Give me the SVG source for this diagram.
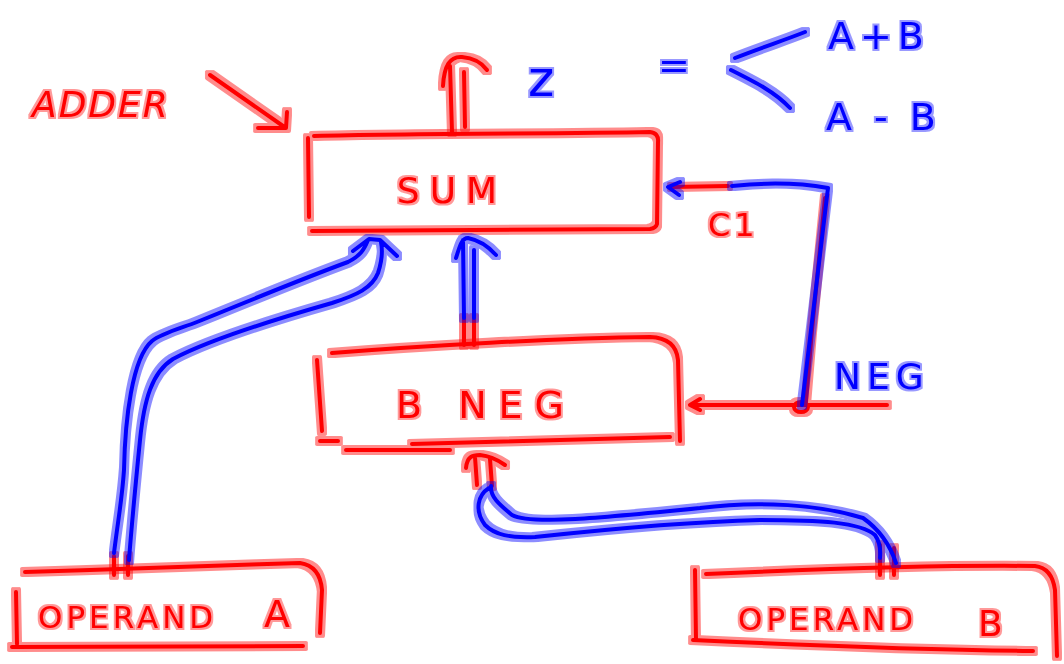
<svg xmlns="http://www.w3.org/2000/svg" width="1064" height="664" viewBox="0 0 1064 664">
<defs>
<filter id="hr" x="-10%" y="-10%" width="120%" height="120%">
<feMorphology in="SourceAlpha" operator="dilate" radius="2.5" result="d"/>
<feFlood flood-color="#ff0000" flood-opacity="0.45"/>
<feComposite in2="d" operator="in" result="h"/>
<feMerge><feMergeNode in="h"/><feMergeNode in="SourceGraphic"/></feMerge>
</filter>
<filter id="hb" x="-10%" y="-10%" width="120%" height="120%">
<feMorphology in="SourceAlpha" operator="dilate" radius="2.5" result="d"/>
<feFlood flood-color="#0000ff" flood-opacity="0.45"/>
<feComposite in2="d" operator="in" result="h"/>
<feMerge><feMergeNode in="h"/><feMergeNode in="SourceGraphic"/></feMerge>
</filter>
<filter id="tr" x="-10%" y="-10%" width="120%" height="120%">
<feMorphology in="SourceAlpha" operator="dilate" radius="1.5" result="d"/>
<feFlood flood-color="#ff0000" flood-opacity="0.4"/>
<feComposite in2="d" operator="in" result="h"/>
<feMerge><feMergeNode in="h"/><feMergeNode in="SourceGraphic"/></feMerge>
</filter>
<filter id="tb" x="-10%" y="-10%" width="120%" height="120%">
<feMorphology in="SourceAlpha" operator="dilate" radius="1.5" result="d"/>
<feFlood flood-color="#0000ff" flood-opacity="0.4"/>
<feComposite in2="d" operator="in" result="h"/>
<feMerge><feMergeNode in="h"/><feMergeNode in="SourceGraphic"/></feMerge>
</filter>
</defs>
<style>
.r{fill:none;stroke:#ff0000;stroke-width:4;stroke-linecap:round;stroke-linejoin:round}
.b{fill:none;stroke:#0000ff;stroke-width:4;stroke-linecap:round;stroke-linejoin:round}
.gr{filter:url(#hr)}
.gb{filter:url(#hb)}
.tr{fill:#ff0000;font-family:"DejaVu Sans",sans-serif;filter:url(#tr)}
.tb{fill:#0000ff;font-family:"DejaVu Sans",sans-serif;filter:url(#tb)}
</style>
<rect width="1064" height="664" fill="#ffffff"/>

<g id="adder-label">
<text class="tr" x="32" y="117" font-size="36" letter-spacing="2" font-style="italic">ADDER</text>
<g class="gr"><path class="r" d="M210 75 L283 126 M258 128 L286 128 L287 112"/></g>
</g>

<g id="sum">
<g class="gr"><path class="r" d="M308 138 L309 217 M314 136 C420 133 560 134 650 132 Q659 133 658 142 L657 224 Q656 228 650 229 L312 231"/></g>
<text class="tr" x="452" y="203" font-size="36" text-anchor="middle" letter-spacing="10">SUM</text>
</g>

<g id="bneg">
<g class="gr"><path class="r" d="M332 353 C420 346 560 338 650 337 Q676 338 678 360 L680 441 M317 360 L322 431 M320 441 L338 441 M346 450 L450 450 M412 444 L670 437"/></g>
<text class="tr" x="486" y="418" font-size="38" text-anchor="middle" letter-spacing="12">B NEG</text>
</g>

<g id="operand-a">
<g class="gr"><path class="r" d="M25 572 C120 569 220 566 300 563 Q320 566 322 590 L320 633 M16 592 L17 644 M12 647 L303 646"/></g>
<text class="tr" x="38" y="628" font-size="31" letter-spacing="4">OPERAND</text>
<text class="tr" x="264" y="627" font-size="38">A</text>
</g>

<g id="operand-b">
<g class="gr"><path class="r" d="M706 574 C820 569 950 565 1035 566 Q1052 568 1055 590 L1057 656 M695 570 L696 640 M693 640 C800 645 950 650 1033 651"/></g>
<text class="tr" x="738" y="630" font-size="31" letter-spacing="4">OPERAND</text>
<text class="tr" x="978" y="636" font-size="36">B</text>
</g>

<g id="labels">
<text class="tb" x="528" y="96" font-size="50">z</text>
<text class="tb" x="658" y="78" font-size="38">=</text>
<g class="gb"><path class="b" d="M735 58 C760 48 785 40 805 32 M731 70 C755 82 775 92 790 108"/></g>
<text class="tb" x="828" y="49" font-size="38" letter-spacing="6">A+B</text>
<text class="tb" x="826" y="130" font-size="38" letter-spacing="5">A - B</text>
<text class="tb" x="834" y="389" font-size="36" letter-spacing="6">NEG</text>
<text class="tr" x="708" y="236" font-size="32" letter-spacing="4">C1</text>
</g>

<g id="connectors">
<g class="gr">
<path class="r" d="M452 132 L450 66 M465 127 L464 72 M443 86 C444 66 450 56 462 57 C474 58 482 63 487 70"/>
<path class="r" d="M464 318 L464 345 M474 318 L474 345"/>
<path class="r" d="M477 485 L475 457 M492 486 L490 459 M466 468 C467 457 472 455 480 455 C490 456 498 460 505 465"/>
<path class="r" d="M114 556 L114 575 M128 556 L128 575 M880 545 L880 575 M894 548 L894 575"/>
<path class="r" d="M672 187 L728 186"/>
<path class="r" d="M825 198 L812 330 L806 402"/>
<path class="r" d="M690 405 L887 405 M700 399 L690 405 L700 410"/>
<ellipse class="r" cx="801" cy="407" rx="7" ry="5"/>
</g>
<g class="gb">
<path class="b" d="M680 182 L668 187 L679 195 M732 186 C770 182 800 183 828 188 L802 405"/>
<path class="b" d="M464 318 L463 240 M474 318 L474 250 M456 258 C460 245 462 238 468 238 C478 240 488 246 496 255"/>
<path class="b" d="M114 553 C118 520 122 500 124 470 C125 420 132 358 152 341 C162 333 182 328 197 322 C258 297 318 273 348 262 C360 256 364 250 368 240 M129 560 C132 520 136 480 140 440 C144 400 152 372 173 359 C203 343 262 323 332 303 C357 295 372 288 378 273 C382 261 383 252 381 242 M353 251 L369 239 L380 240 L397 256"/>
<path class="b" d="M491 486 C490 497 500 505 512 515 C530 525 600 518 700 508 C760 500 820 505 863 518 C880 530 890 545 896 563 M489 488 C478 495 474 510 485 525 C495 535 510 538 535 537 C600 530 680 522 760 520 C820 520 860 522 875 535 C882 545 880 555 880 558"/>
</g>
</g>
</svg>
